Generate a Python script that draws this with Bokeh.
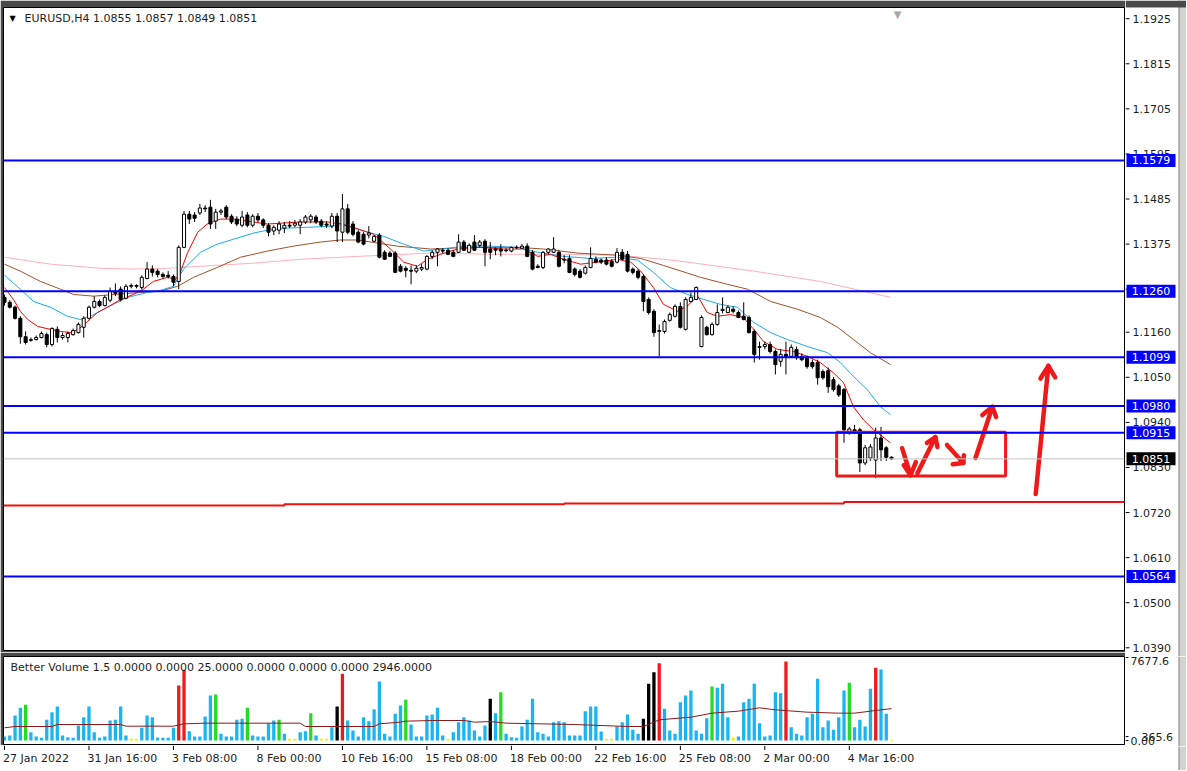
from bokeh.plotting import figure
from bokeh.models import Range1d, Label, Span
from bokeh.layouts import column, row
from bokeh.embed import file_html
from bokeh.resources import INLINE
from bokeh.core.properties import value

FONT = "DejaVu Sans"
TXT = "#1e1e1e"
BLUE = "#0000FF"
RED = "#F01818"
DARK = "#4a4a4a"
BAND = "#D4D2CE"

# ---------------- price data (EURUSD H4), one value per bar ----------------
open_ = [
    1.1245, 1.1233, 1.1221, 1.1194, 1.1149, 1.1140, 1.1142, 1.1147, 1.1154, 1.1130,
    1.1167, 1.1147, 1.1147, 1.1154, 1.1159, 1.1172, 1.1194, 1.1221, 1.1235, 1.1225,
    1.1238, 1.1260, 1.1265, 1.1243, 1.1272, 1.1274, 1.1269, 1.1291, 1.1314, 1.1309,
    1.1301, 1.1299, 1.1296, 1.1284, 1.1367, 1.1448, 1.1446, 1.1451, 1.1463, 1.1465,
    1.1431, 1.1453, 1.1465, 1.1443, 1.1436, 1.1421, 1.1446, 1.1421, 1.1443, 1.1434,
    1.1421, 1.1407, 1.1409, 1.1414, 1.1421, 1.1421, 1.1421, 1.1429, 1.1434, 1.1441,
    1.1431, 1.1424, 1.1419, 1.1443, 1.1404, 1.1461, 1.1424, 1.1404, 1.1399, 1.1397,
    1.1382, 1.1397, 1.1355, 1.1353, 1.1353, 1.1321, 1.1316, 1.1311, 1.1309, 1.1314,
    1.1314, 1.1345, 1.1355, 1.1360, 1.1360, 1.1355, 1.1355, 1.1380, 1.1355, 1.1380,
    1.1372, 1.1382, 1.1363, 1.1363, 1.1363, 1.1360, 1.1358, 1.1367, 1.1365, 1.1370,
    1.1355, 1.1321, 1.1318, 1.1355, 1.1355, 1.1355, 1.1338, 1.1340, 1.1314, 1.1309,
    1.1304, 1.1318, 1.1338, 1.1336, 1.1336, 1.1333, 1.1331, 1.1355, 1.1350, 1.1314,
    1.1309, 1.1296, 1.1240, 1.1211, 1.1162, 1.1162, 1.1189, 1.1199, 1.1223, 1.1167,
    1.1235, 1.1240, 1.1125, 1.1172, 1.1154, 1.1179, 1.1213, 1.1208, 1.1216, 1.1208,
    1.1199, 1.1196, 1.1162, 1.1123, 1.1125, 1.1130, 1.1113, 1.1089, 1.1106, 1.1101,
    1.1118, 1.1101, 1.1096, 1.1086, 1.1086, 1.1064, 1.1066, 1.1044, 1.1029, 1.1020,
    1.0917, 1.0922, 1.0922, 1.0841, 1.0853, 1.0848, 1.0902, 1.0878, 1.0855]
high = [
    1.1252, 1.1238, 1.1225, 1.1199, 1.1162, 1.1147, 1.1152, 1.1162, 1.1159, 1.1172,
    1.1174, 1.1159, 1.1162, 1.1169, 1.1184, 1.1199, 1.1225, 1.1248, 1.1240, 1.1250,
    1.1269, 1.1279, 1.1272, 1.1277, 1.1279, 1.1277, 1.1299, 1.1331, 1.1323, 1.1314,
    1.1306, 1.1309, 1.1301, 1.1372, 1.1456, 1.1456, 1.1453, 1.1473, 1.1470, 1.1483,
    1.1461, 1.1461, 1.1470, 1.1448, 1.1443, 1.1456, 1.1453, 1.1448, 1.1451, 1.1438,
    1.1426, 1.1421, 1.1431, 1.1429, 1.1431, 1.1434, 1.1436, 1.1446, 1.1448, 1.1446,
    1.1436, 1.1431, 1.1451, 1.1451, 1.1497, 1.1473, 1.1431, 1.1409, 1.1404, 1.1419,
    1.1397, 1.1402, 1.1360, 1.1358, 1.1358, 1.1326, 1.1321, 1.1323, 1.1323, 1.1326,
    1.1348, 1.1360, 1.1365, 1.1365, 1.1365, 1.1360, 1.1399, 1.1385, 1.1377, 1.1397,
    1.1385, 1.1387, 1.1380, 1.1367, 1.1375, 1.1365, 1.1369, 1.1372, 1.1375, 1.1377,
    1.1360, 1.1326, 1.1358, 1.1365, 1.1392, 1.1360, 1.1348, 1.1348, 1.1318, 1.1314,
    1.1323, 1.1367, 1.1345, 1.1340, 1.1343, 1.1338, 1.1365, 1.1363, 1.1358, 1.1318,
    1.1314, 1.1301, 1.1245, 1.1216, 1.1179, 1.1191, 1.1208, 1.1228, 1.1233, 1.1245,
    1.1257, 1.1272, 1.1201, 1.1176, 1.1184, 1.1228, 1.1245, 1.1225, 1.1223, 1.1213,
    1.1233, 1.1201, 1.1167, 1.1137, 1.1137, 1.1137, 1.1118, 1.1118, 1.1137, 1.1130,
    1.1125, 1.1108, 1.1103, 1.1093, 1.1093, 1.1069, 1.1074, 1.1051, 1.1034, 1.1024,
    1.0929, 1.0934, 1.0927, 1.0885, 1.0887, 1.0927, 1.0929, 1.0882, 1.0857]
low = [
    1.1225, 1.1218, 1.1191, 1.1132, 1.1130, 1.1137, 1.1140, 1.1145, 1.1123, 1.1125,
    1.1135, 1.1142, 1.1135, 1.1152, 1.1157, 1.1147, 1.1191, 1.1218, 1.1221, 1.1223,
    1.1233, 1.1248, 1.1235, 1.1240, 1.1267, 1.1267, 1.1265, 1.1289, 1.1296, 1.1294,
    1.1291, 1.1291, 1.1272, 1.1265, 1.1365, 1.1424, 1.1429, 1.1446, 1.1453, 1.1412,
    1.1412, 1.1446, 1.1436, 1.1424, 1.1419, 1.1416, 1.1416, 1.1416, 1.1429, 1.1414,
    1.1394, 1.1397, 1.1399, 1.1402, 1.1414, 1.1416, 1.1399, 1.1424, 1.1426, 1.1424,
    1.1416, 1.1414, 1.1414, 1.1380, 1.1380, 1.1399, 1.1394, 1.1377, 1.1372, 1.1389,
    1.1380, 1.1340, 1.1336, 1.1343, 1.1304, 1.1306, 1.1294, 1.1277, 1.1304, 1.1309,
    1.1311, 1.1338, 1.1321, 1.1353, 1.1348, 1.1343, 1.1353, 1.1358, 1.1353, 1.1358,
    1.1367, 1.1321, 1.1338, 1.1348, 1.1345, 1.1355, 1.1355, 1.1363, 1.1363, 1.1343,
    1.1311, 1.1316, 1.1314, 1.1350, 1.1353, 1.1318, 1.1328, 1.1304, 1.1296, 1.1291,
    1.1301, 1.1316, 1.1328, 1.1326, 1.1323, 1.1318, 1.1328, 1.1336, 1.1306, 1.1301,
    1.1289, 1.1211, 1.1203, 1.1149, 1.1101, 1.1157, 1.1186, 1.1196, 1.1169, 1.1164,
    1.1233, 1.1238, 1.1123, 1.1152, 1.1152, 1.1176, 1.1206, 1.1206, 1.1206, 1.1194,
    1.1189, 1.1157, 1.1086, 1.1093, 1.1118, 1.1108, 1.1057, 1.1076, 1.1057, 1.1098,
    1.1093, 1.1089, 1.1071, 1.1071, 1.1032, 1.1044, 1.1012, 1.1015, 1.1002, 1.0890,
    1.0910, 1.0912, 1.0819, 1.0836, 1.0846, 1.0804, 1.0846, 1.0846, 1.0849]
close = [
    1.1233, 1.1221, 1.1194, 1.1149, 1.1135, 1.1142, 1.1147, 1.1157, 1.1130, 1.1169,
    1.1147, 1.1152, 1.1157, 1.1164, 1.1179, 1.1194, 1.1221, 1.1235, 1.1225, 1.1245,
    1.1260, 1.1255, 1.1240, 1.1272, 1.1274, 1.1272, 1.1294, 1.1314, 1.1306, 1.1301,
    1.1296, 1.1296, 1.1282, 1.1367, 1.1448, 1.1436, 1.1438, 1.1463, 1.1461, 1.1424,
    1.1453, 1.1456, 1.1441, 1.1429, 1.1424, 1.1441, 1.1421, 1.1443, 1.1434, 1.1421,
    1.1404, 1.1416, 1.1424, 1.1421, 1.1419, 1.1426, 1.1429, 1.1441, 1.1443, 1.1429,
    1.1421, 1.1421, 1.1443, 1.1407, 1.1461, 1.1404, 1.1399, 1.1380, 1.1375, 1.1402,
    1.1394, 1.1343, 1.1338, 1.1345, 1.1306, 1.1309, 1.1311, 1.1309, 1.1316, 1.1318,
    1.1345, 1.1355, 1.1363, 1.1358, 1.1350, 1.1345, 1.1380, 1.1360, 1.1372, 1.1360,
    1.1380, 1.1355, 1.1355, 1.1360, 1.1358, 1.1359, 1.1367, 1.1366, 1.1370, 1.1345,
    1.1314, 1.1318, 1.1355, 1.1363, 1.1363, 1.1321, 1.1336, 1.1306, 1.1301, 1.1294,
    1.1318, 1.1340, 1.1331, 1.1331, 1.1326, 1.1321, 1.1355, 1.1338, 1.1309, 1.1306,
    1.1294, 1.1235, 1.1208, 1.1159, 1.1164, 1.1186, 1.1203, 1.1223, 1.1172, 1.1240,
    1.1245, 1.1269, 1.1196, 1.1154, 1.1179, 1.1208, 1.1216, 1.1221, 1.1211, 1.1196,
    1.1191, 1.1159, 1.1106, 1.1125, 1.1130, 1.1113, 1.1081, 1.1106, 1.1101, 1.1123,
    1.1098, 1.1093, 1.1076, 1.1076, 1.1049, 1.1049, 1.1027, 1.1020, 1.1007, 1.0922,
    1.0924, 1.0919, 1.0841, 1.0878, 1.0880, 1.0902, 1.0873, 1.0855, 1.0851]

# moving averages (bar position, price)
ma_red_x = [0, 1.7, 3.0, 4.4, 6.3, 8.7, 10.6, 12.5, 14.0, 15.7, 17.6, 19.5, 22.0, 24.4, 26.3, 28.2,
            30.9, 32.4, 33.3, 34.7, 36.6, 38.4, 40.9, 43.4, 49.8, 56.1, 61.2, 63.6, 66.9, 69.9,
            73.1, 75.6, 78.2, 80.1, 82.6, 85.8, 90.2, 94.5, 98.3, 101.0, 103.4, 105.9, 109.1,
            112.3, 116.1, 118.6, 120.5, 122.9, 124.8, 127.5, 129.4, 131.3, 133.1, 135.0, 137.5,
            139.9, 141.9, 143.8, 146.4, 149.4, 152.1, 154.5, 157.0, 158.9, 160.8, 162.7, 164.6, 167.8]
ma_red_y = [1.1269, 1.1240, 1.1211, 1.1191, 1.1174, 1.1167, 1.1162, 1.1159, 1.1167, 1.1186, 1.1208,
            1.1221, 1.1240, 1.1252, 1.1265, 1.1284, 1.1294, 1.1289, 1.1306, 1.1355, 1.1404, 1.1424,
            1.1436, 1.1436, 1.1424, 1.1429, 1.1429, 1.1424, 1.1412, 1.1399, 1.1363, 1.1331, 1.1321,
            1.1338, 1.1350, 1.1363, 1.1367, 1.1363, 1.1363, 1.1345, 1.1350, 1.1338, 1.1326, 1.1331,
            1.1338, 1.1331, 1.1309, 1.1269, 1.1228, 1.1211, 1.1225, 1.1248, 1.1208, 1.1199, 1.1203,
            1.1196, 1.1167, 1.1137, 1.1118, 1.1113, 1.1101, 1.1086, 1.1061, 1.1037, 1.0978, 1.0946,
            1.0922, 1.0890]
ma_cyan_x = [0, 3.0, 5.5, 8.7, 11.9, 14.4, 16.9, 19.5, 23.3, 27.1, 29.5, 32.0, 33.9, 37.1, 40.3,
             43.4, 47.2, 49.8, 53.6, 57.4, 62.3, 63.6, 68.0, 71.8, 75.6, 79.4, 83.1, 86.9, 92.0,
             97.2, 101.0, 105.9, 111.0, 116.1, 119.9, 122.9, 126.1, 129.4, 132.4, 135.6, 138.8,
             141.9, 145.1, 148.3, 152.1, 155.9, 158.3, 160.8, 163.4, 165.9, 167.8]
ma_cyan_y = [1.1299, 1.1265, 1.1235, 1.1221, 1.1199, 1.1191, 1.1203, 1.1221, 1.1245, 1.1257, 1.1262,
             1.1272, 1.1314, 1.1355, 1.1375, 1.1387, 1.1402, 1.1409, 1.1414, 1.1416, 1.1419, 1.1426,
             1.1407, 1.1394, 1.1375, 1.1358, 1.1363, 1.1370, 1.1370, 1.1367, 1.1355, 1.1345, 1.1340,
             1.1343, 1.1336, 1.1306, 1.1269, 1.1252, 1.1240, 1.1228, 1.1221, 1.1184, 1.1159, 1.1142,
             1.1125, 1.1110, 1.1086, 1.1052, 1.1020, 1.0978, 1.0959]
ma_brown_x = [0, 3.0, 6.8, 10.6, 13.1, 16.9, 20.6, 25.8, 29.5, 32.8, 35.8, 40.3, 44.7, 49.8, 54.7,
              59.8, 63.6, 66.9, 74.4, 80.7, 88.3, 97.2, 102.1, 108.5, 116.1, 120.5, 124.8, 129.4,
              131.8, 136.9, 140.7, 145.1, 150.2, 154.5, 157.8, 160.8, 164.0, 167.8]
ma_brown_y = [1.1326, 1.1309, 1.1284, 1.1265, 1.1252, 1.1248, 1.1252, 1.1257, 1.1260, 1.1272, 1.1294,
              1.1318, 1.1343, 1.1358, 1.1370, 1.1380, 1.1385, 1.1385, 1.1370, 1.1363, 1.1367, 1.1367,
              1.1363, 1.1353, 1.1348, 1.1340, 1.1323, 1.1304, 1.1294, 1.1277, 1.1265, 1.1235, 1.1216,
              1.1196, 1.1172, 1.1142, 1.1110, 1.1081]
ma_pink_x = [0, 8.7, 18.2, 24.4, 30.9, 37.1, 46.6, 56.1, 66.9, 80.7, 93.4, 105.9, 116.1, 124.8,
             129.4, 141.9, 154.5, 167.8]
ma_pink_y = [1.1343, 1.1326, 1.1316, 1.1314, 1.1316, 1.1321, 1.1328, 1.1338, 1.1345, 1.1353, 1.1350,
             1.1350, 1.1348, 1.1338, 1.1331, 1.1309, 1.1284, 1.1245]

# horizontal levels
level_values = [1.1579, 1.1260, 1.1099, 1.0980, 1.0915, 1.0564]
level_labels = ["1.1579", "1.1260", "1.1099", "1.0980", "1.0915", "1.0564"]
bid_value = 1.0851
bid_label = "1.0851"
red_step_x = [-0.2, 53, 106, 159, 212.2]
red_step_y = [1.0737, 1.0740, 1.0742, 1.0746, 1.0746]

price_ticks = [1.1925, 1.1815, 1.1705, 1.1595, 1.1485, 1.1375, 1.1265, 1.1160, 1.1050,
               1.0940, 1.0830, 1.0720, 1.0610, 1.0500, 1.0390]
price_tick_labels = ["1.1925", "1.1815", "1.1705", "1.1595", "1.1485", "1.1375", "1.1265",
                     "1.1160", "1.1050", "1.0940", "1.0830", "1.0720", "1.0610", "1.0500", "1.0390"]

# hand drawn red box and arrows (bar position, price)
box_left, box_right, box_top, box_bottom = 157.6, 189.6, 1.0916, 1.0809
arrow_start = [(170.0, 1.0877), (172.9, 1.0816), (178.5, 1.0885), (183.9, 1.0853), (195.3, 1.0765)]
arrow_tip = [(171.6, 1.0811), (176.3, 1.0904), (181.6, 1.0841), (187.1, 1.0978), (197.7, 1.1078)]
arrow_arm1 = [(170.3, 1.0836), (174.7, 1.0890), (179.6, 1.0838), (185.2, 1.0958), (196.2, 1.1047)]
arrow_arm2 = [(172.6, 1.0843), (176.7, 1.0880), (181.7, 1.0860), (187.8, 1.0953), (199.0, 1.1050)]

# ---------------- volume pane ----------------
volume = [
    370, 462, 2312, 3021, 3299, 771, 370, 247, 1911, 2621,
    3145, 462, 308, 247, 1387, 2158, 3145, 771, 247, 370,
    1850, 1911, 3145, 462, 154, 154, 1172, 2312, 2158, 247,
    247, 247, 1172, 5087, 6536, 863, 370, 370, 2220, 4162,
    4255, 617, 370, 370, 1911, 2004, 3021, 462, 370, 370,
    1603, 1850, 1911, 617, 154, 154, 771, 863, 2528, 462,
    154, 154, 1233, 3145, 6166, 1850, 925, 370, 2158, 1788,
    2898, 5457, 617, 370, 2466, 3237, 3761, 1480, 370, 370,
    2312, 2405, 3021, 462, 154, 771, 1696, 2158, 1850, 925,
    370, 1387, 3854, 2528, 4470, 617, 308, 247, 1295, 1911,
    3854, 771, 617, 370, 1696, 1788, 1696, 462, 462, 462,
    2713, 3145, 3145, 832, 154, 154, 1295, 1696, 2405, 987,
    617, 2004, 5241, 6320, 7153, 2929, 925, 617, 3545, 4162,
    4625, 925, 617, 2066, 4995, 4871, 5241, 2158, 247, 370,
    3545, 3854, 5241, 1603, 370, 462, 4470, 4378, 7307, 1233,
    617, 462, 2158, 2466, 5704, 1233, 1850, 987, 2158, 4625,
    5334, 1233, 1911, 1295, 4779, 6721, 6567, 2466, 62]
climax_bars = [33, 34, 64, 124, 148, 165]          # red
churn_bars = [4, 40, 46, 52, 58, 76, 94, 134, 160]  # green
climax_churn_bars = [63, 92, 121, 122, 123]         # black
low_vol_bars = [24, 25, 54, 55, 60, 61, 84, 114, 115, 138, 168]  # yellow
vol_avg_x = [0, 2, 9, 10, 22, 23, 32, 34, 38, 56, 57, 70, 71, 75, 76, 81, 87, 89, 92, 95, 108,
             118, 121, 124, 130, 134, 139, 143, 146, 152, 158, 161, 165, 168]
vol_avg_y = [1175, 1295, 1295, 1480, 1480, 1325, 1325, 1541, 1603, 1603, 1295, 1295, 1541, 1696,
             1788, 1850, 1850, 1696, 1750, 1603, 1480, 1295, 1295, 1911, 2158, 2528, 2713, 3021,
             2836, 2621, 2528, 2528, 2775, 2946]
vol_ticks = [7677.6, 365.6, 0]
vol_tick_labels = ["7677.6", "365.6", "0.00"]

date_ticks = [0, 16, 32, 48, 64, 80, 96, 112, 128, 144, 160]
date_labels = ["27 Jan 2022", "31 Jan 16:00", "3 Feb 08:00", "8 Feb 00:00", "10 Feb 16:00",
               "15 Feb 08:00", "18 Feb 00:00", "22 Feb 16:00", "25 Feb 08:00", "2 Mar 00:00",
               "4 Mar 16:00"]

header_text = "EURUSD,H4  1.0855 1.0857 1.0849 1.0851"
vol_header_text = "Better Volume 1.5 0.0000 0.0000 25.0000 0.0000 0.0000 0.0000 2946.0000"

# ---------------- layout (pixels) ----------------
CHART_W = 1125      # frame x 3..1124
STRIP_W = 61        # price scale strip
MAIN_H = 652        # frame y 7..650
MAIN_FRAME_H = 643
VOL_H = 93          # frame y 656..744
VOL_FRAME_H = 88
DATE_H = 25
X_RANGE = Range1d(-0.19, 212.12)
PRICE_RANGE = Range1d(1.03834, 1.19523)
VOL_RANGE = Range1d(-370, 7770)

# scale strips span slightly more pixels than the panes, with the same price/volume per pixel
PA_H = 656          # y 0..656
VA_H = 90           # y 656..746
DC_H = 770 - PA_H - VA_H
price_per_px = (PRICE_RANGE.end - PRICE_RANGE.start) / MAIN_FRAME_H
vol_per_px = (VOL_RANGE.end - VOL_RANGE.start) / VOL_FRAME_H
PA_RANGE = Range1d(PRICE_RANGE.start - 6 * price_per_px, PRICE_RANGE.end + 7 * price_per_px)
VA_RANGE = Range1d(VOL_RANGE.start - 2 * vol_per_px, VOL_RANGE.end)

n = len(close)
bars = list(range(n))


def fig(**kw):
    f = figure(output_backend="svg", toolbar_location=None, x_axis_location=None,
               y_axis_location=None, **kw)
    f.grid.visible = False
    f.background_fill_color = "white"
    return f


# ---- main price pane ----
p = fig(width=CHART_W, height=MAIN_H, x_range=X_RANGE, y_range=PRICE_RANGE,
        min_border_left=3, min_border_right=1, min_border_top=7, min_border_bottom=2)
p.outline_line_color = "black"
p.border_fill_color = DARK

p.line(ma_pink_x, ma_pink_y, line_color="#FFB0B8", line_width=1)
p.line(ma_brown_x, ma_brown_y, line_color="#A0522D", line_width=1)
p.line(ma_cyan_x, ma_cyan_y, line_color="#1EAAF0", line_width=1)
p.line(ma_red_x, ma_red_y, line_color="#FF0000", line_width=1)

p.segment(x0=bars, y0=low, x1=bars, y1=high, line_color="black", line_width=1)
up = [i for i in bars if close[i] >= open_[i]]
dn = [i for i in bars if close[i] < open_[i]]
p.vbar(x=up, width=0.58, bottom=[open_[i] for i in up], top=[close[i] for i in up],
       fill_color="white", line_color="black", line_width=1)
p.vbar(x=dn, width=0.58, bottom=[close[i] for i in dn], top=[open_[i] for i in dn],
       fill_color="black", line_color="black", line_width=1)

p.add_layout(Span(location=bid_value, dimension="width", line_color="#C4C4C4", line_width=1))
p.step(red_step_x, red_step_y, mode="after", line_color="#F01010", line_width=2)
for lvl in level_values:
    p.add_layout(Span(location=lvl, dimension="width", line_color=BLUE, line_width=2))

p.quad(left=[box_left], right=[box_right], top=[box_top], bottom=[box_bottom],
       fill_alpha=0, line_color=RED, line_width=3)
shaft_xs = [[s[0], t[0]] for s, t in zip(arrow_start, arrow_tip)]
shaft_ys = [[s[1], t[1]] for s, t in zip(arrow_start, arrow_tip)]
head_xs = [[a[0], t[0], b[0]] for a, t, b in zip(arrow_arm1, arrow_tip, arrow_arm2)]
head_ys = [[a[1], t[1], b[1]] for a, t, b in zip(arrow_arm1, arrow_tip, arrow_arm2)]
p.multi_line(shaft_xs, shaft_ys, line_color=RED, line_width=4.5, line_cap="round")
p.multi_line(head_xs, head_ys, line_color=RED, line_width=4.5, line_cap="round",
             line_join="round")

p.add_layout(Label(x=9, y=MAIN_FRAME_H - 11, x_units="screen", y_units="screen", text="▼",
                   text_color="black", text_font=FONT, text_font_size="8px",
                   text_baseline="middle", text_align="center"))
p.add_layout(Label(x=21, y=MAIN_FRAME_H - 11, x_units="screen", y_units="screen",
                   text=header_text, text_color=TXT, text_font=FONT, text_font_size="11px",
                   text_baseline="middle", text_align="left"))
p.add_layout(Label(x=894, y=MAIN_FRAME_H - 1, x_units="screen", y_units="screen", text="▼",
                   text_color="#A8A8A8", text_font=FONT, text_font_size="10px",
                   text_baseline="top", text_align="center"))

# ---- volume pane ----
v = fig(width=CHART_W, height=VOL_H, x_range=X_RANGE, y_range=VOL_RANGE,
        min_border_left=3, min_border_right=1, min_border_top=4, min_border_bottom=1)
v.outline_line_color = "black"
v.border_fill_color = DARK

colors = []
for i in bars:
    if i in climax_bars:
        colors.append("#F01818")
    elif i in churn_bars:
        colors.append("#22DD22")
    elif i in climax_churn_bars:
        colors.append("black")
    elif i in low_vol_bars:
        colors.append("#F2F200")
    else:
        colors.append("#1AB4F2")
v.vbar(x=bars, width=0.62, bottom=0, top=volume, fill_color=colors, line_color=None)
v.line(vol_avg_x, vol_avg_y, line_color="#8B1A1A", line_width=1)
v.add_layout(Label(x=7, y=VOL_FRAME_H - 11, x_units="screen", y_units="screen",
                   text=vol_header_text, text_color=TXT, text_font=FONT, text_font_size="11px",
                   text_baseline="middle", text_align="left"))

# ---- date scale ----
d = fig(width=CHART_W, height=DATE_H, x_range=X_RANGE, y_range=Range1d(0, DATE_H),
        min_border_left=3, min_border_right=1, min_border_top=0, min_border_bottom=0)
d.outline_line_color = None
d.border_fill_color = "white"
d.segment(x0=date_ticks, x1=date_ticks, y0=[DATE_H] * len(date_ticks),
          y1=[DATE_H - 4.5] * len(date_ticks), line_color="black", line_width=1)
d.text(x=date_ticks, y=[DATE_H - 13] * len(date_ticks), text=date_labels,
       text_font=value(FONT), text_font_size=value("11px"), text_color=TXT,
       text_baseline="middle", text_align="left", x_offset=-1.5)

# ---- price scale strip ----
pa = fig(width=STRIP_W, height=PA_H, x_range=Range1d(0, STRIP_W), y_range=PA_RANGE,
         min_border_left=0, min_border_right=0, min_border_top=0, min_border_bottom=0)
pa.outline_line_color = None
pa.border_fill_color = "white"
pa.quad(left=[53], right=[STRIP_W], bottom=[PA_RANGE.start], top=[PA_RANGE.end],
        fill_color=BAND, line_color=None)
pa.segment(x0=[53.5], x1=[53.5], y0=[PA_RANGE.start], y1=[PA_RANGE.end],
           line_color="#8a8a8a", line_width=1)
pa.quad(left=[0], right=[STRIP_W], bottom=[PRICE_RANGE.end], top=[PA_RANGE.end],
        fill_color=DARK, line_color=None)
pa.segment(x0=[0] * len(price_ticks), x1=[4] * len(price_ticks), y0=price_ticks, y1=price_ticks,
           line_color="black", line_width=1)
pa.text(x=[7] * len(price_ticks), y=price_ticks, text=price_tick_labels,
        text_font=value(FONT), text_font_size=value("11px"), text_color=TXT,
        text_baseline="middle", text_align="left")
pa.rect(x=[25.5] * len(level_values), y=level_values, width=49, height=13,
        height_units="screen", fill_color=BLUE, line_color=None)
pa.text(x=[25.5] * len(level_values), y=level_values, text=level_labels,
        text_font=value(FONT), text_font_size=value("11px"), text_color="white",
        text_baseline="middle", text_align="center")
pa.rect(x=[25.5], y=[bid_value], width=49, height=13, height_units="screen",
        fill_color="black", line_color=None)
pa.text(x=[25.5], y=[bid_value], text=[bid_label], text_font=value(FONT),
        text_font_size=value("11px"), text_color="white", text_baseline="middle",
        text_align="center")

# ---- volume scale strip ----
va = fig(width=STRIP_W, height=VA_H, x_range=Range1d(0, STRIP_W), y_range=VA_RANGE,
         min_border_left=0, min_border_right=0, min_border_top=0, min_border_bottom=0)
va.outline_line_color = None
va.border_fill_color = "white"
va.quad(left=[53], right=[STRIP_W], bottom=[VA_RANGE.start], top=[VA_RANGE.end],
        fill_color=BAND, line_color=None)
va.segment(x0=[53.5], x1=[53.5], y0=[VA_RANGE.start], y1=[VA_RANGE.end],
           line_color="#8a8a8a", line_width=1)
va.segment(x0=[0] * 3, x1=[3] * 3, y0=vol_ticks, y1=vol_ticks, line_color="black", line_width=1)
va.text(x=[5], y=[vol_ticks[0]], text=[vol_tick_labels[0]], text_font=value(FONT),
        text_font_size=value("11px"), text_color=TXT, text_baseline="top", text_align="left")
va.text(x=[16, 5], y=vol_ticks[1:], text=vol_tick_labels[1:], text_font=value(FONT),
        text_font_size=value("11px"), text_color=TXT, text_baseline="middle", text_align="left")

dc = fig(width=STRIP_W, height=DC_H, x_range=Range1d(0, STRIP_W), y_range=Range1d(0, DC_H),
         min_border_left=0, min_border_right=0, min_border_top=0, min_border_bottom=0)
dc.outline_line_color = None
dc.border_fill_color = "white"
dc.quad(left=[53], right=[STRIP_W], bottom=[0], top=[DC_H], fill_color=BAND, line_color=None)
dc.segment(x0=[53.5], x1=[53.5], y0=[0], y1=[DC_H], line_color="#8a8a8a", line_width=1)

layout = row(column(p, v, d), column(pa, va, dc))
open("out.html", "w").write(file_html(layout, INLINE))
